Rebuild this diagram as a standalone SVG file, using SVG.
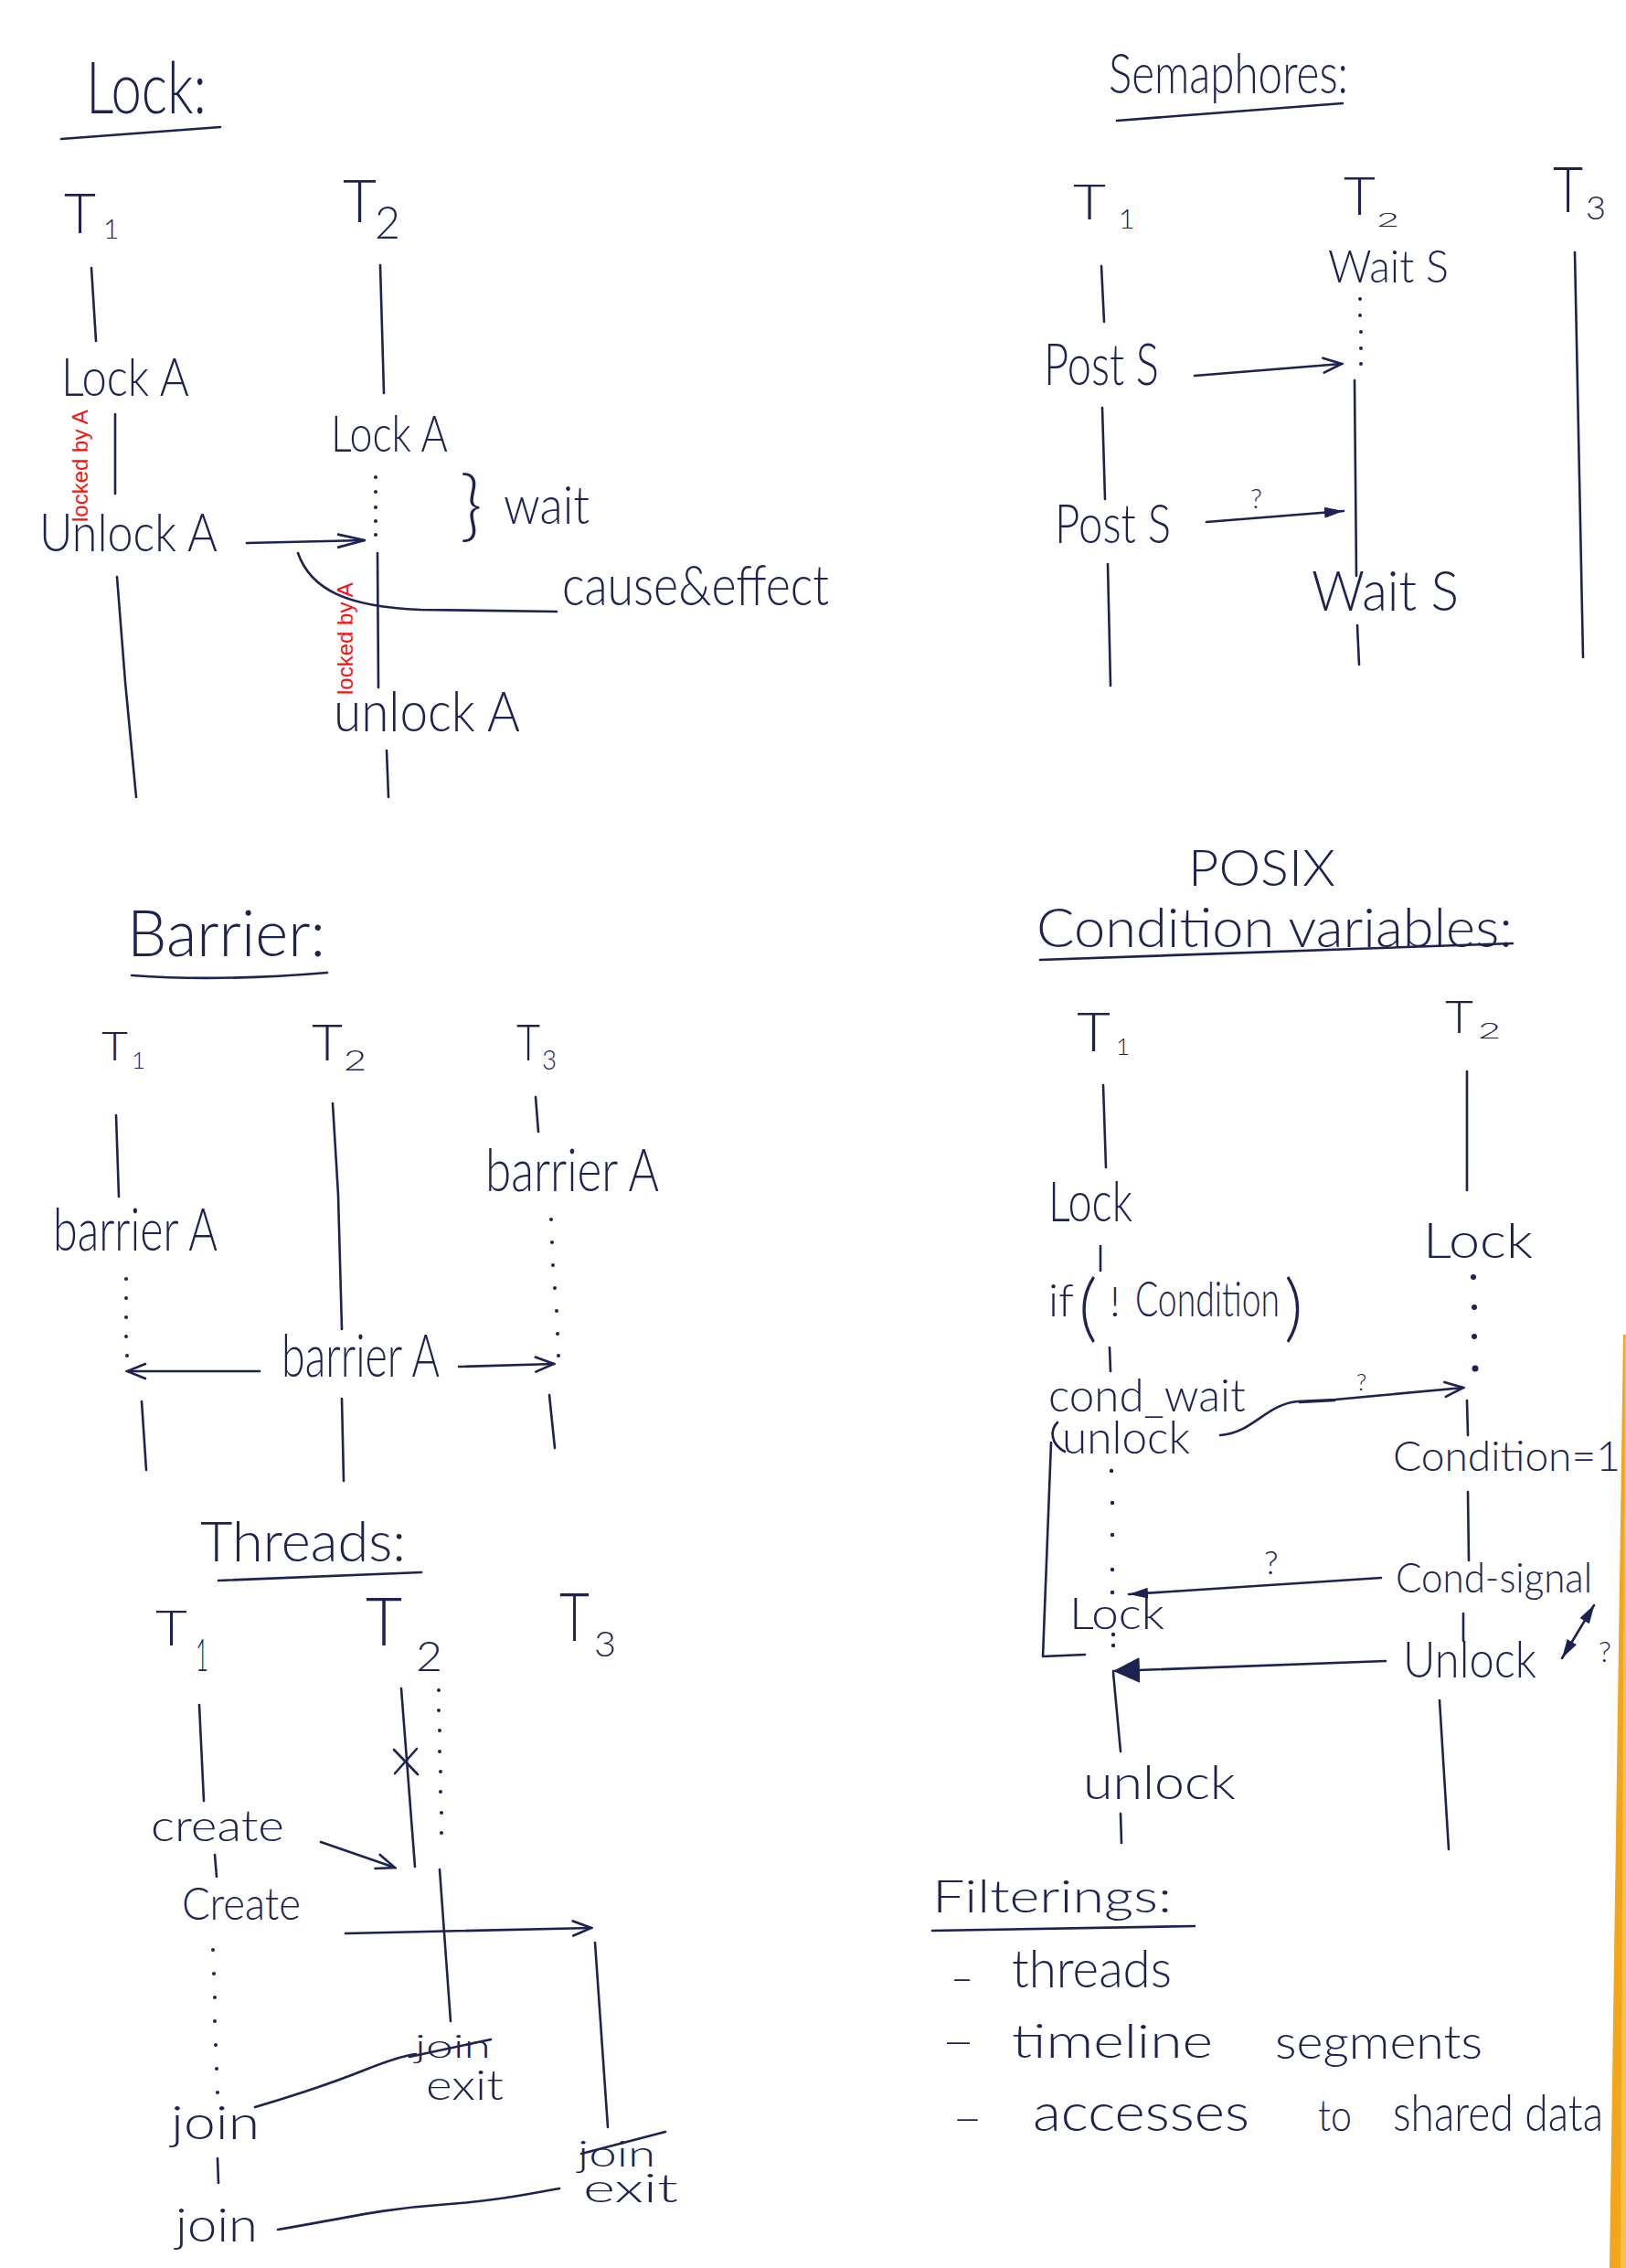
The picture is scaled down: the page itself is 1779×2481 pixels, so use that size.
<svg xmlns="http://www.w3.org/2000/svg" width="1779" height="2481" viewBox="0 0 1779 2481">
<style>
.t{fill:#1c2352;font-family:Lato,"Liberation Sans",sans-serif;font-weight:300}
.r{fill:#ff1010;font-family:"Liberation Sans",Arial,sans-serif;font-size:24px}
.l{stroke:#1c2352;stroke-width:2.6;fill:none;stroke-linecap:round;stroke-linejoin:round}
.d{fill:#1c2352}
</style>
<defs>
<marker id="open" viewBox="0 0 24 20" refX="22" refY="10" markerWidth="24" markerHeight="20" markerUnits="userSpaceOnUse" orient="auto"><path d="M2,2 L22,10 L2,18" fill="none" stroke="#1c2352" stroke-width="2.6" stroke-linecap="round"/></marker>
<marker id="openL" viewBox="0 0 32 20" refX="30" refY="10" markerWidth="32" markerHeight="20" markerUnits="userSpaceOnUse" orient="auto"><path d="M1,3 L30,10 L1,17" fill="none" stroke="#1c2352" stroke-width="2.8" stroke-linecap="round"/></marker>
<marker id="fill" viewBox="0 0 22 16" refX="21" refY="8" markerWidth="22" markerHeight="16" markerUnits="userSpaceOnUse" orient="auto"><path d="M0,2 L21,8 L0,14 Z" fill="#1c2352"/></marker>
<marker id="fillS" viewBox="0 0 22 16" refX="1" refY="8" markerWidth="22" markerHeight="16" markerUnits="userSpaceOnUse" orient="auto"><path d="M21,2 L0,8 L21,14 Z" fill="#1c2352"/></marker>
<marker id="big" viewBox="0 0 30 30" refX="29" refY="15" markerWidth="30" markerHeight="30" markerUnits="userSpaceOnUse" orient="auto"><path d="M0,1 L29,15 L0,29 Z" fill="#1c2352"/></marker>
</defs>
<rect width="1779" height="2481" fill="#ffffff"/>
<polygon points="1776,1460 1779,1460 1779,2481 1761,2481" fill="#f3a51c"/>
<polygon points="1778,1460 1779,1460 1779,2481 1773,2481" fill="#f7c240"/>

<!-- LOCK -->
<g id="lock">
<g id="lock-title"><text class="t" x="94" y="124" font-size="78" textLength="132" lengthAdjust="spacingAndGlyphs">Lock:</text></g>
<g id="lock-t1"><text class="t" x="70" y="255" font-size="62" textLength="35" lengthAdjust="spacingAndGlyphs">T</text><text class="t" x="113" y="261" font-size="30">1</text></g>
<g id="lock-t2"><text class="t" x="375" y="243" font-size="66" textLength="37" lengthAdjust="spacingAndGlyphs">T</text><text class="t" x="410" y="261" font-size="50" textLength="28" lengthAdjust="spacingAndGlyphs">2</text></g>
<g id="lock-t1-lock"><text class="t" x="67" y="433" font-size="58" textLength="140" lengthAdjust="spacingAndGlyphs">Lock A</text></g>
<g id="lock-t1-unlock"><text class="t" x="43" y="603" font-size="58" textLength="195" lengthAdjust="spacingAndGlyphs">Unlock A</text></g>
<g id="lock-t2-lock"><text class="t" x="362" y="494" font-size="56" textLength="128" lengthAdjust="spacingAndGlyphs">Lock A</text></g>
<g id="lock-wait"><text class="t" x="503" y="582" font-size="84">}</text><text class="t" x="551" y="573" font-size="58" textLength="94" lengthAdjust="spacingAndGlyphs">wait</text></g>
<g id="lock-cause"><text class="t" x="615" y="662" font-size="62" textLength="292" lengthAdjust="spacingAndGlyphs">cause&amp;effect</text></g>
<g id="lock-t2-unlock"><text class="t" x="365" y="800" font-size="62" textLength="204" lengthAdjust="spacingAndGlyphs">unlock A</text></g>
<g id="lock-red1"><text class="r" transform="translate(96,571) rotate(-90)">locked by A</text></g>
<g id="lock-red2"><text class="r" transform="translate(386,760) rotate(-90)">locked by A</text></g>
</g>

<!-- SEMAPHORES -->
<g id="sem">
<g id="sem-title"><text class="t" x="1213" y="102" font-size="62" textLength="262" lengthAdjust="spacingAndGlyphs">Semaphores:</text></g>
<g id="sem-t1"><text class="t" x="1174" y="240" font-size="53" textLength="36" lengthAdjust="spacingAndGlyphs">T</text><text class="t" x="1224" y="250" font-size="30">1</text></g>
<g id="sem-t2"><text class="t" x="1470" y="235" font-size="57" textLength="35" lengthAdjust="spacingAndGlyphs">T</text><text class="t" x="1506" y="248" font-size="22" textLength="25" lengthAdjust="spacingAndGlyphs">2</text></g>
<g id="sem-t3"><text class="t" x="1699" y="232" font-size="68" textLength="33" lengthAdjust="spacingAndGlyphs">T</text><text class="t" x="1735" y="240" font-size="36" textLength="22" lengthAdjust="spacingAndGlyphs">3</text></g>
<g id="sem-wait1"><text class="t" x="1453" y="309" font-size="50" textLength="132" lengthAdjust="spacingAndGlyphs">Wait S</text></g>
<g id="sem-post1"><text class="t" x="1142" y="421" font-size="64" textLength="126" lengthAdjust="spacingAndGlyphs">Post S</text></g>
<g id="sem-post2"><text class="t" x="1154" y="594" font-size="60" textLength="127" lengthAdjust="spacingAndGlyphs">Post S</text></g>
<g id="sem-q"><text class="t" x="1368" y="556" font-size="30">?</text></g>
<g id="sem-wait2"><text class="t" x="1435" y="668" font-size="62" textLength="161" lengthAdjust="spacingAndGlyphs">Wait S</text></g>
</g>

<!-- BARRIER -->
<g id="bar">
<g id="bar-title"><text class="t" x="139" y="1046" font-size="70" textLength="217" lengthAdjust="spacingAndGlyphs">Barrier:</text></g>
<g id="bar-t1"><text class="t" x="111" y="1160" font-size="43" textLength="29" lengthAdjust="spacingAndGlyphs">T</text><text class="t" x="144" y="1169" font-size="26">1</text></g>
<g id="bar-t2"><text class="t" x="341" y="1160" font-size="56" textLength="34" lengthAdjust="spacingAndGlyphs">T</text><text class="t" x="376" y="1171" font-size="32" textLength="25" lengthAdjust="spacingAndGlyphs">2</text></g>
<g id="bar-t3"><text class="t" x="565" y="1160" font-size="56" textLength="26" lengthAdjust="spacingAndGlyphs">T</text><text class="t" x="593" y="1170" font-size="30" textLength="16" lengthAdjust="spacingAndGlyphs">3</text></g>
<g id="bar-t3-b"><text class="t" x="531" y="1303" font-size="66" textLength="190" lengthAdjust="spacingAndGlyphs">barrier A</text></g>
<g id="bar-t1-b"><text class="t" x="58" y="1368" font-size="66" textLength="180" lengthAdjust="spacingAndGlyphs">barrier A</text></g>
<g id="bar-t2-b"><text class="t" x="308" y="1506" font-size="66" textLength="173" lengthAdjust="spacingAndGlyphs">barrier A</text></g>
</g>

<!-- THREADS -->
<g id="thr">
<g id="thr-title"><text class="t" x="219" y="1708" font-size="62" textLength="225" lengthAdjust="spacingAndGlyphs">Threads:</text></g>
<g id="thr-t1"><text class="t" x="170" y="1800" font-size="54" textLength="35" lengthAdjust="spacingAndGlyphs">T</text><text class="t" x="214" y="1828" font-size="50" textLength="14" lengthAdjust="spacingAndGlyphs">1</text></g>
<g id="thr-t2"><text class="t" x="400" y="1800" font-size="72" textLength="40" lengthAdjust="spacingAndGlyphs">T</text><text class="t" x="455" y="1828" font-size="46" textLength="29" lengthAdjust="spacingAndGlyphs">2</text></g>
<g id="thr-t3"><text class="t" x="612" y="1795" font-size="72" textLength="33" lengthAdjust="spacingAndGlyphs">T</text><text class="t" x="650" y="1812" font-size="38" textLength="24" lengthAdjust="spacingAndGlyphs">3</text></g>
<g id="thr-create1"><text class="t" x="165" y="2014" font-size="48" textLength="146" lengthAdjust="spacingAndGlyphs">create</text></g>
<g id="thr-create2"><text class="t" x="199" y="2100" font-size="50" textLength="130" lengthAdjust="spacingAndGlyphs">Create</text></g>
<g id="thr-t2-exit"><text class="t" x="454" y="2251" font-size="36" textLength="83" lengthAdjust="spacingAndGlyphs">join</text><line class="l" x1="448" y1="2250" x2="537" y2="2231"/><text class="t" x="466" y="2297" font-size="46" textLength="85" lengthAdjust="spacingAndGlyphs">exit</text></g>
<g id="thr-join1"><text class="t" x="187" y="2340" font-size="52" textLength="97" lengthAdjust="spacingAndGlyphs">join</text></g>
<g id="thr-t3-exit"><text class="t" x="632" y="2370" font-size="40" textLength="85" lengthAdjust="spacingAndGlyphs">join</text><line class="l" x1="636" y1="2356" x2="728" y2="2332"/><text class="t" x="638" y="2409" font-size="44" textLength="104" lengthAdjust="spacingAndGlyphs">exit</text></g>
<g id="thr-join2"><text class="t" x="192" y="2452" font-size="52" textLength="90" lengthAdjust="spacingAndGlyphs">join</text></g>
</g>

<!-- POSIX -->
<g id="cv">
<g id="cv-title"><text class="t" x="1300" y="969" font-size="56" textLength="161" lengthAdjust="spacingAndGlyphs">POSIX</text><text class="t" x="1134" y="1036" font-size="60" textLength="521" lengthAdjust="spacingAndGlyphs">Condition variables:</text></g>
<g id="cv-t1"><text class="t" x="1178" y="1150" font-size="60" textLength="37" lengthAdjust="spacingAndGlyphs">T</text><text class="t" x="1221" y="1154" font-size="26">1</text></g>
<g id="cv-t2"><text class="t" x="1581" y="1130" font-size="49" textLength="31" lengthAdjust="spacingAndGlyphs">T</text><text class="t" x="1617" y="1136" font-size="24" textLength="25" lengthAdjust="spacingAndGlyphs">2</text></g>
<g id="cv-t1-lock"><text class="t" x="1147" y="1336" font-size="62" textLength="92" lengthAdjust="spacingAndGlyphs">Lock</text></g>
<g id="cv-t2-lock"><text class="t" x="1557" y="1376" font-size="54" textLength="120" lengthAdjust="spacingAndGlyphs">Lock</text></g>
<g id="cv-if"><text class="t" x="1147" y="1440" font-size="50" textLength="28" lengthAdjust="spacingAndGlyphs">if</text><text class="t" x="1180" y="1458" font-size="80">(</text><text class="t" x="1214" y="1440" font-size="46">!</text><text class="t" x="1242" y="1440" font-size="54" textLength="158" lengthAdjust="spacingAndGlyphs">Condition</text><text class="t" x="1405" y="1458" font-size="80">)</text></g>
<g id="cv-wait"><text class="t" x="1147" y="1544" font-size="50" textLength="216" lengthAdjust="spacingAndGlyphs">cond_wait</text><text class="t" x="1162" y="1590" font-size="50" textLength="140" lengthAdjust="spacingAndGlyphs">unlock</text></g>
<g id="cv-cond1"><text class="t" x="1524" y="1609" font-size="46" textLength="249" lengthAdjust="spacingAndGlyphs">Condition=1</text></g>
<g id="cv-signal"><text class="t" x="1527" y="1742" font-size="46" textLength="215" lengthAdjust="spacingAndGlyphs">Cond-signal</text></g>
<g id="cv-t1-lock2"><text class="t" x="1170" y="1782" font-size="48" textLength="104" lengthAdjust="spacingAndGlyphs">Lock</text></g>
<g id="cv-t2-unlock"><text class="t" x="1535" y="1835" font-size="56" textLength="146" lengthAdjust="spacingAndGlyphs">Unlock</text></g>
<g id="cv-t1-unlock"><text class="t" x="1185" y="1968" font-size="52" textLength="167" lengthAdjust="spacingAndGlyphs">unlock</text></g>
<g id="cv-q"><text class="t" x="1484" y="1521" font-size="26">?</text><text class="t" x="1383" y="1722" font-size="36">?</text><text class="t" x="1749" y="1818" font-size="32">?</text></g>
</g>

<!-- FILTERINGS -->
<g id="filt">
<g id="filt-title"><text class="t" x="1020" y="2092" font-size="50" textLength="262" lengthAdjust="spacingAndGlyphs">Filterings:</text></g>
<g id="filt-1"><text class="t" x="1040" y="2180" font-size="50" textLength="25" lengthAdjust="spacingAndGlyphs">–</text><text class="t" x="1107" y="2174" font-size="58" textLength="175" lengthAdjust="spacingAndGlyphs">threads</text></g>
<g id="filt-2"><text class="t" x="1030" y="2249" font-size="50" textLength="37" lengthAdjust="spacingAndGlyphs">–</text><text class="t" x="1107" y="2251" font-size="52" textLength="220" lengthAdjust="spacingAndGlyphs">timeline</text><text class="t" x="1395" y="2252" font-size="52" textLength="227" lengthAdjust="spacingAndGlyphs">segments</text></g>
<g id="filt-3"><text class="t" x="1042" y="2333" font-size="50" textLength="33" lengthAdjust="spacingAndGlyphs">–</text><text class="t" x="1130" y="2331" font-size="58" textLength="237" lengthAdjust="spacingAndGlyphs">accesses</text><text class="t" x="1442" y="2331" font-size="48" textLength="37" lengthAdjust="spacingAndGlyphs">to</text><text class="t" x="1524" y="2331" font-size="56" textLength="230" lengthAdjust="spacingAndGlyphs">shared data</text></g>
</g>

<!-- CONNECTORS -->
<g id="connectors">
<path class="l" d="M67,152 L241,139"/>
<path class="l" d="M1222,132 L1469,113"/>
<path class="l" d="M144,1067 Q240,1074 358,1064"/>
<path class="l" d="M239,1729 L461,1720"/>
<path class="l" d="M1138,1050 L1655,1032"/>
<path class="l" d="M1020,2112 L1307,2107"/>
<path class="l" d="M100,293 L105,373"/>
<path class="l" d="M126,453 L126,540"/>
<path class="l" d="M128,631 L137,746 L149,872"/>
<path class="l" d="M416,290 L420,430"/>
<path class="l" d="M413,605 L414,752"/>
<path class="l" d="M423,821 L425,872"/>
<g class="d"><circle cx="411" cy="522" r="2"/><circle cx="411" cy="538" r="2"/><circle cx="411" cy="555" r="2"/><circle cx="411" cy="570" r="2"/><circle cx="411" cy="585" r="2"/></g>
<path class="l" d="M270,594 L399,591" marker-end="url(#openL)"/>
<path class="l" stroke-width="1.8" d="M326,605 C340,645 380,664 460,667 L609,669"/>
<path class="l" d="M1205,291 L1208,352"/>
<path class="l" d="M1206,446 L1209,546"/>
<path class="l" d="M1212,617 L1215,750"/>
<path class="l" d="M1482,416 L1484,630"/>
<path class="l" d="M1485,684 L1487,727"/>
<path class="l" d="M1723,276 L1732,719"/>
<g class="d"><circle cx="1488" cy="327" r="2"/><circle cx="1488" cy="345" r="2"/><circle cx="1489" cy="363" r="2"/><circle cx="1489" cy="381" r="2"/><circle cx="1489" cy="398" r="2"/></g>
<path class="l" d="M1307,411 L1468,398" marker-end="url(#open)"/>
<path class="l" d="M1320,571 L1470,559" marker-end="url(#fill)"/>
<path class="l" d="M127,1220 L130,1309"/>
<path class="l" d="M364,1207 L370,1307 L374,1454"/>
<path class="l" d="M586,1200 L589,1238"/>
<path class="l" d="M155,1533 L160,1608"/>
<path class="l" d="M374,1530 L376,1620"/>
<path class="l" d="M601,1526 L607,1584"/>
<g class="d"><circle cx="138" cy="1399" r="2"/><circle cx="138" cy="1420" r="2"/><circle cx="138" cy="1441" r="2"/><circle cx="138" cy="1462" r="2"/><circle cx="139" cy="1483" r="2"/>
<circle cx="603" cy="1334" r="2"/><circle cx="604" cy="1359" r="2"/><circle cx="605" cy="1384" r="2"/><circle cx="607" cy="1409" r="2"/><circle cx="609" cy="1434" r="2"/><circle cx="610" cy="1459" r="2"/><circle cx="611" cy="1483" r="2"/></g>
<path class="l" d="M284,1500 L139,1500" marker-end="url(#open)"/>
<path class="l" d="M502,1495 L606,1492" marker-end="url(#open)"/>
<path class="l" d="M218,1865 L223,1970"/>
<path class="l" d="M439,1847 L454,2042"/>
<path class="l" d="M431,1914 L457,1941 M432,1940 L456,1913"/>
<path class="l" d="M235,2029 L237,2053"/>
<path class="l" d="M481,2045 L493,2211"/>
<path class="l" d="M651,2125 L665,2327"/>
<path class="l" d="M238,2361 L239,2388"/>
<g class="d"><circle cx="480" cy="1849" r="2"/><circle cx="480" cy="1871" r="2"/><circle cx="481" cy="1893" r="2"/><circle cx="481" cy="1916" r="2"/><circle cx="482" cy="1938" r="2"/><circle cx="482" cy="1960" r="2"/><circle cx="483" cy="1983" r="2"/><circle cx="483" cy="2005" r="2"/>
<circle cx="233" cy="2133" r="2"/><circle cx="234" cy="2159" r="2"/><circle cx="235" cy="2185" r="2"/><circle cx="235" cy="2211" r="2"/><circle cx="236" cy="2237" r="2"/><circle cx="237" cy="2263" r="2"/><circle cx="238" cy="2289" r="2"/></g>
<path class="l" d="M351,2015 L432,2043" marker-end="url(#open)"/>
<path class="l" d="M378,2115 L647,2109" marker-end="url(#open)"/>
<path class="l" d="M279,2305 C330,2290 370,2276 400,2264 C425,2254 440,2249 455,2247"/>
<path class="l" d="M304,2439 C380,2426 420,2416 480,2412 C540,2408 580,2400 612,2394"/>
<path class="l" d="M1207,1187 L1210,1277"/>
<path class="l" d="M1204,1363 L1204,1390"/>
<path class="l" d="M1214,1474 L1215,1500"/>
<path class="l" d="M1605,1172 L1605,1302"/>
<path class="l" d="M1605,1532 L1606,1570"/>
<path class="l" d="M1606,1632 L1607,1707"/>
<path class="l" d="M1601,1765 L1601,1795"/>
<path class="l" d="M1218,1830 L1226,1916"/>
<path class="l" d="M1575,1860 L1585,2023"/>
<path class="l" d="M1226,1984 L1227,2016"/>
<g class="d"><circle cx="1612" cy="1397" r="3"/><circle cx="1613" cy="1430" r="3"/><circle cx="1613" cy="1462" r="3"/><circle cx="1614" cy="1497" r="3.5"/>
<circle cx="1216" cy="1609" r="2.2"/><circle cx="1217" cy="1644" r="2.2"/><circle cx="1217" cy="1679" r="2.2"/><circle cx="1217" cy="1717" r="2.2"/><circle cx="1217" cy="1742" r="2.2"/><circle cx="1218" cy="1788" r="2.2"/><circle cx="1218" cy="1800" r="2.2"/></g>
<path class="l" d="M1157,1556 C1148,1565 1150,1580 1165,1588"/>
<path class="l" d="M1150,1578 L1141,1812 L1187,1810"/>
<path class="l" d="M1335,1570 C1370,1568 1385,1536 1420,1533 L1461,1531 L1601,1518" marker-end="url(#open)"/>
<path class="l" stroke-width="6" d="M1422,1534 L1460,1532"/>
<path class="l" d="M1511,1726 L1235,1744" marker-end="url(#fill)"/>
<path class="l" d="M1516,1817 L1218,1828" marker-end="url(#big)"/>
<path class="l" d="M1744,1756 L1709,1814" marker-start="url(#fillS)" marker-end="url(#fill)"/>
</g>
</svg>
